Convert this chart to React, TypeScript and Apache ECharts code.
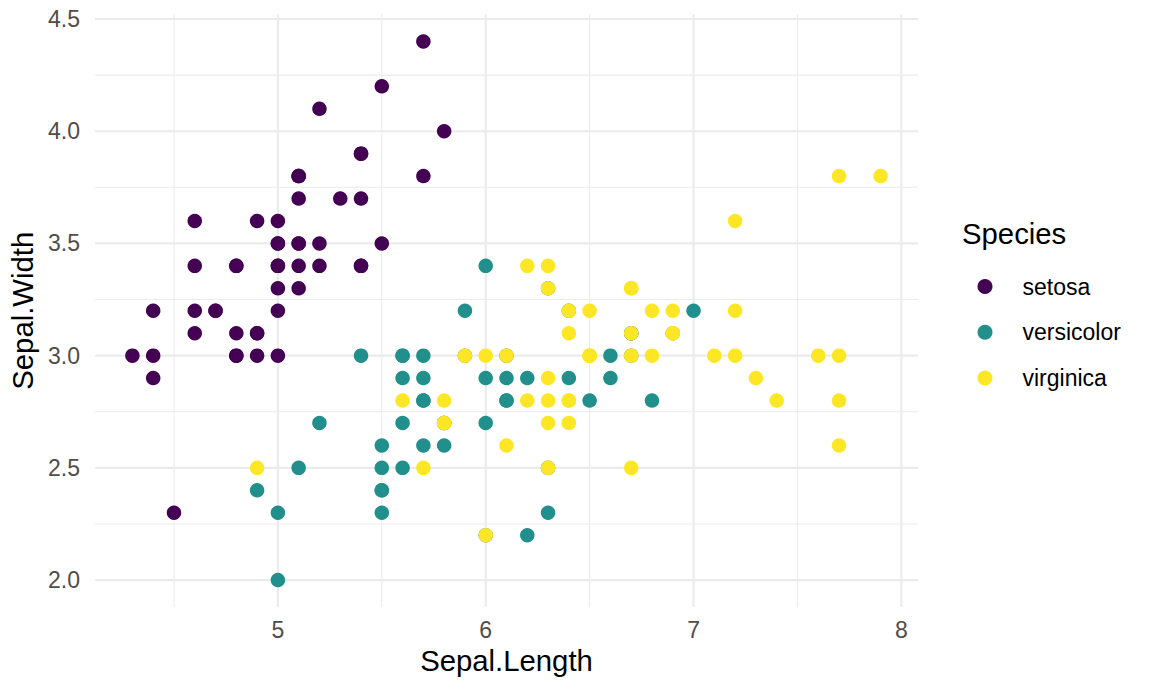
import React, { useEffect, useRef } from "react";
import * as echarts from "echarts";

// Iris: Sepal.Length / Sepal.Width by species
const setosaLength = [5.1,4.9,4.7,4.6,5.0,5.4,4.6,5.0,4.4,4.9,5.4,4.8,4.8,4.3,5.8,5.7,5.4,5.1,5.7,5.1,5.4,5.1,4.6,5.1,4.8,5.0,5.0,5.2,5.2,4.7,4.8,5.4,5.2,5.5,4.9,5.0,5.5,4.9,4.4,5.1,5.0,4.5,4.4,5.0,5.1,4.8,5.1,4.6,5.3,5.0];
const setosaWidth = [3.5,3.0,3.2,3.1,3.6,3.9,3.4,3.4,2.9,3.1,3.7,3.4,3.0,3.0,4.0,4.4,3.9,3.5,3.8,3.8,3.4,3.7,3.6,3.3,3.4,3.0,3.4,3.5,3.4,3.2,3.1,3.4,4.1,4.2,3.1,3.2,3.5,3.6,3.0,3.4,3.5,2.3,3.2,3.5,3.8,3.0,3.8,3.2,3.7,3.3];
const versicolorLength = [7.0,6.4,6.9,5.5,6.5,5.7,6.3,4.9,6.6,5.2,5.0,5.9,6.0,6.1,5.6,6.7,5.6,5.8,6.2,5.6,5.9,6.1,6.3,6.1,6.4,6.6,6.8,6.7,6.0,5.7,5.5,5.5,5.8,6.0,5.4,6.0,6.7,6.3,5.6,5.5,5.5,6.1,5.8,5.0,5.6,5.7,5.7,6.2,5.1,5.7];
const versicolorWidth = [3.2,3.2,3.1,2.3,2.8,2.8,3.3,2.4,2.9,2.7,2.0,3.0,2.2,2.9,2.9,3.1,3.0,2.7,2.2,2.5,3.2,2.8,2.5,2.8,2.9,3.0,2.8,3.0,2.9,2.6,2.4,2.4,2.7,2.7,3.0,3.4,3.1,2.3,3.0,2.5,2.6,3.0,2.6,2.3,2.7,3.0,2.9,2.9,2.5,2.8];
const virginicaLength = [6.3,5.8,7.1,6.3,6.5,7.6,4.9,7.3,6.7,7.2,6.5,6.4,6.8,5.7,5.8,6.4,6.5,7.7,7.7,6.0,6.9,5.6,7.7,6.3,6.7,7.2,6.2,6.1,6.4,7.2,7.4,7.9,6.4,6.3,6.1,7.7,6.3,6.4,6.0,6.9,6.7,6.9,5.8,6.8,6.7,6.7,6.3,6.5,6.2,5.9];
const virginicaWidth = [3.3,2.7,3.0,2.9,3.0,3.0,2.5,2.9,2.5,3.6,3.2,2.7,3.0,2.5,2.8,3.2,3.0,3.8,2.6,2.2,3.2,2.8,2.8,2.7,3.3,3.2,2.8,3.0,2.8,3.0,2.8,3.8,2.8,2.8,2.6,3.0,3.4,3.1,3.0,3.1,3.1,3.1,2.7,3.2,3.3,3.0,2.5,3.0,3.4,3.0];

const speciesNames = ["setosa", "versicolor", "virginica"];
const speciesColors = ["#440154", "#21908C", "#FDE725"];

const xTicks = [5, 6, 7, 8];
const xMinor = [4.5, 5.5, 6.5, 7.5];
const yTicks = [2.0, 2.5, 3.0, 3.5, 4.0, 4.5];
const yMinor = [2.25, 2.75, 3.25, 3.75, 4.25];

const X_MIN = 4.12, X_MAX = 8.08, Y_MIN = 1.88, Y_MAX = 4.52;

const FONT = "'Liberation Sans', Arial, Helvetica, sans-serif";
const TICK_SIZE = 23;
const TITLE_SIZE = 29.3;

export default function App() {
  const ref = useRef<HTMLDivElement>(null);
  useEffect(() => {
    if (!ref.current) return;
    const chart = echarts.init(ref.current, undefined, { renderer: "svg" });
    const zip = (a: number[], b: number[]) => a.map((v, i) => [v, b[i]]);
    const grids: any[] = [];
    const gl = (pts: number[][], w: number) => ({
      type: "line", data: pts, symbol: "none", silent: true, z: 1,
      lineStyle: { color: "#EBEBEB", width: w }, animation: false,
    });
    xMinor.forEach((v) => grids.push(gl([[v, Y_MIN], [v, Y_MAX]], 1.07)));
    yMinor.forEach((v) => grids.push(gl([[X_MIN, v], [X_MAX, v]], 1.07)));
    xTicks.forEach((v) => grids.push(gl([[v, Y_MIN], [v, Y_MAX]], 2.13)));
    yTicks.forEach((v) => grids.push(gl([[X_MIN, v], [X_MAX, v]], 2.13)));
    const dataSets = [
      zip(setosaLength, setosaWidth),
      zip(versicolorLength, versicolorWidth),
      zip(virginicaLength, virginicaWidth),
    ];
    const scatters = speciesNames.map((n, i) => ({
      name: n, type: "scatter", data: dataSets[i], symbolSize: 14.5, z: 3,
      itemStyle: { color: speciesColors[i], opacity: 1 },
    }));
    chart.setOption({
      animation: false,
      backgroundColor: "#ffffff",
      textStyle: { fontFamily: FONT },
      grid: { left: 95, right: 234, top: 14.5, bottom: 84, containLabel: false },
      title: {
        text: "Species", left: 957, top: 214,
        textStyle: { fontFamily: FONT, fontSize: TITLE_SIZE, fontWeight: "normal", color: "#000000" },
      },
      legend: {
        data: speciesNames, orient: "vertical", left: 972.5, top: 270,
        itemWidth: 15, itemHeight: 15, itemGap: 22.75, icon: "circle",
        textStyle: { fontFamily: FONT, fontSize: TICK_SIZE, color: "#000000", padding: [0, 0, 0, 25] },
      },
      xAxis: {
        type: "value", min: X_MIN, max: X_MAX,
        name: "Sepal.Length", nameLocation: "middle", nameGap: 38,
        nameTextStyle: { fontFamily: FONT, fontSize: TITLE_SIZE, color: "#000000" },
        axisLine: { show: false }, axisTick: { show: false }, splitLine: { show: false },
        axisLabel: { customValues: xTicks, margin: 11, fontFamily: FONT, fontSize: TICK_SIZE, color: "#4D4D4D", formatter: (v: number) => String(v) },
      },
      yAxis: {
        type: "value", min: Y_MIN, max: Y_MAX,
        name: "Sepal.Width", nameLocation: "middle", nameGap: 52, nameRotate: 90,
        nameTextStyle: { fontFamily: FONT, fontSize: TITLE_SIZE, color: "#000000" },
        axisLine: { show: false }, axisTick: { show: false }, splitLine: { show: false },
        axisLabel: { customValues: yTicks, margin: 15, fontFamily: FONT, fontSize: TICK_SIZE, color: "#4D4D4D", formatter: (v: number) => v.toFixed(1) },
      },
      series: [...grids, ...scatters],
    });
    return () => chart.dispose();
  }, []);
  return <div ref={ref} style={{ position: "fixed", left: 0, top: 0, width: 1152, height: 691 }} />;
}
